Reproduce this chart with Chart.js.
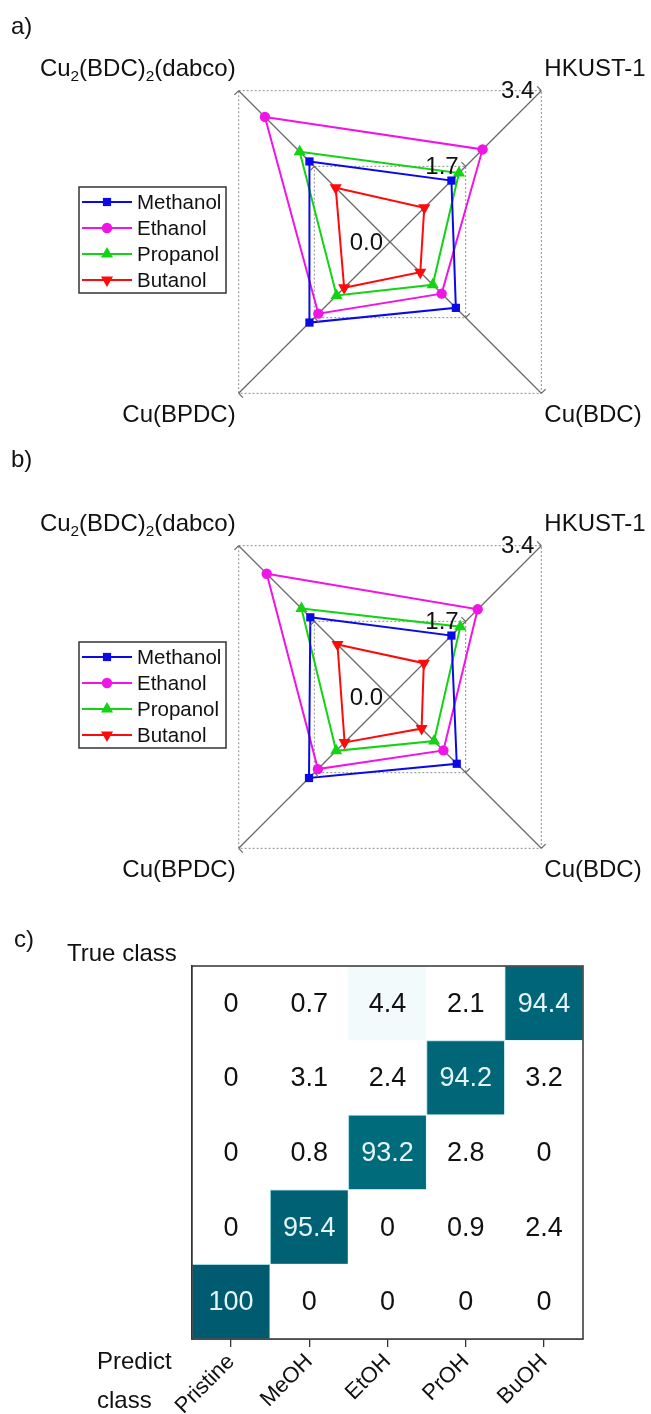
<!DOCTYPE html>
<html>
<head>
<meta charset="utf-8">
<script src="https://cdn.jsdelivr.net/npm/chart.js@4.4.1/dist/chart.umd.min.js"></script>
<style>
  html, body { margin: 0; padding: 0; background: #fff; }
  #page { position: relative; width: 651px; height: 1414px; overflow: hidden;
          font-family: 'Liberation Sans', Arial, sans-serif; color: #111; }
  #page canvas { position: absolute; left: 0; }
  .tag { position: absolute; font-size: 24px; line-height: 1; }
</style>
</head>
<body>
<div id="page">
  <canvas id="radarA" width="651" height="456" style="top:0px"></canvas>
  <canvas id="radarB" width="651" height="456" style="top:455px"></canvas>
  <canvas id="heat" width="651" height="534" style="top:880px"></canvas>
  <div class="tag" style="left:11px;top:14px">a)</div>
  <div class="tag" style="left:11px;top:447px">b)</div>
  <div class="tag" style="left:14px;top:927px">c)</div>
</div>
<script>
// ---------- data ----------
const materials = ['Cu_2(BDC)_2(dabco)', 'HKUST-1', 'Cu(BDC)', 'Cu(BPDC)'];
const alcohols = ['Methanol', 'Ethanol', 'Propanol', 'Butanol'];
const radialTicks = [0, 1.7, 3.4];

// panel a
const methanolA = [1.81, 1.38, 1.48, 1.81];
const ethanolA  = [2.81, 2.08, 1.16, 1.61];
const propanolA = [2.03, 1.55, 0.96, 1.20];
const butanolA  = [1.22, 0.77, 0.68, 1.03];

// panel b
const methanolB = [1.79, 1.38, 1.50, 1.82];
const ethanolB  = [2.77, 1.97, 1.20, 1.62];
const propanolB = [1.99, 1.58, 0.99, 1.21];
const butanolB  = [1.18, 0.76, 0.71, 1.02];

// panel c: confusion matrix, rows = true class (bottom to top), columns = predicted class
const trueClasses = ['Pristine', 'MeOH', 'EtOH', 'PrOH', 'BuOH'];
const predClasses = ['Pristine', 'MeOH', 'EtOH', 'PrOH', 'BuOH'];
const rowPristine = [100, 0, 0, 0, 0];
const rowMeOH     = [0, 95.4, 0, 0.9, 2.4];
const rowEtOH     = [0, 0.8, 93.2, 2.8, 0];
const rowPrOH     = [0, 3.1, 2.4, 94.2, 3.2];
const rowBuOH     = [0, 0.7, 4.4, 2.1, 94.4];
const matrix = [rowPristine, rowMeOH, rowEtOH, rowPrOH, rowBuOH];

// ---------- styles ----------
const FONT = "'Liberation Sans', Arial, sans-serif";
Chart.defaults.font.family = FONT;
Chart.defaults.color = '#111';

const COLORS = ['#0a0ae6', '#f014e6', '#14d214', '#ff0a0a'];
const MARKS = [
  { style: 'rect', rot: 0, r: 5.8 },
  { style: 'circle', rot: 0, r: 5.2 },
  { style: 'triangle', rot: 0, r: 7 },
  { style: 'triangle', rot: 180, r: 7 }
];

// text with single-digit subscripts written as _2
function drawRich(ctx, text, x, yMid, align, size) {
  const parts = text.split(/_(\d)/);
  const segs = parts.map((s, k) => ({ s, sub: k % 2 === 1 }));
  let total = 0;
  segs.forEach(g => {
    ctx.font = (g.sub ? size * 0.64 : size) + 'px ' + FONT;
    g.w = ctx.measureText(g.s).width;
    total += g.w;
  });
  let cx = align === 'right' ? x - total : x;
  const base = yMid + size * 0.36;
  ctx.textAlign = 'left';
  ctx.textBaseline = 'alphabetic';
  segs.forEach(g => {
    ctx.font = (g.sub ? size * 0.64 : size) + 'px ' + FONT;
    ctx.fillText(g.s, cx, base + (g.sub ? size * 0.2 : 0));
    cx += g.w;
  });
}

// axis names, tick values, small tick marks and the line+symbol legend
const radarDecor = {
  id: 'radarDecor',
  afterDraw(chart) {
    const r = chart.scales.r;
    const ctx = chart.ctx;
    const n = chart.data.labels.length;
    ctx.save();

    // short ticks across every axis
    ctx.strokeStyle = '#666';
    ctx.lineWidth = 1.2;
    r.ticks.forEach(t => {
      if (t.value <= r.min) return;
      for (let i = 0; i < n; i++) {
        const p = r.getPointPositionForValue(i, t.value);
        const a = r.getIndexAngle(i) - Math.PI;
        ctx.beginPath();
        ctx.moveTo(p.x, p.y);
        ctx.lineTo(p.x + Math.cos(a) * 6, p.y + Math.sin(a) * 6);
        ctx.stroke();
      }
    });

    // tick values along the second axis
    ctx.fillStyle = '#111';
    ctx.font = '24px ' + FONT;
    ctx.textAlign = 'right';
    ctx.textBaseline = 'middle';
    r.ticks.forEach(t => {
      const p = r.getPointPositionForValue(1, t.value);
      ctx.fillText(t.label, p.x - 7, p.y + 1);
    });

    // axis names
    chart.data.labels.forEach((lab, i) => {
      const p = r.getPointPositionForValue(i, r.max);
      const left = p.x < r.xCenter;
      const top = p.y < r.yCenter;
      const x = left ? p.x - 3 : p.x + 3;
      const y = top ? p.y - 23 : p.y + 20;
      drawRich(ctx, lab, x, y, left ? 'right' : 'left', 24);
    });

    // legend
    const L = { x: 79, y: 187, w: 147, h: 106, row: 26 };
    ctx.strokeStyle = '#333';
    ctx.lineWidth = 1.5;
    ctx.strokeRect(L.x, L.y, L.w, L.h);
    chart.data.datasets.forEach((ds, k) => {
      const y = L.y + 15 + k * L.row;
      ctx.strokeStyle = ds.borderColor;
      ctx.lineWidth = 2;
      ctx.beginPath();
      ctx.moveTo(L.x + 3, y);
      ctx.lineTo(L.x + 53, y);
      ctx.stroke();
      ctx.fillStyle = ds.borderColor;
      Chart.helpers.drawPoint(ctx, {
        pointStyle: ds.pointStyle, rotation: ds.pointRotation,
        radius: ds.pointRadius, borderWidth: 0
      }, L.x + 28, y);
      ctx.fillStyle = '#111';
      ctx.font = '20.5px ' + FONT;
      ctx.textAlign = 'left';
      ctx.textBaseline = 'middle';
      ctx.fillText(ds.label, L.x + 58, y + 1);
    });
    ctx.restore();
  }
};

function makeRadar(id, series) {
  return new Chart(document.getElementById(id), {
    type: 'radar',
    data: {
      labels: materials,
      datasets: series.map((vals, k) => ({
        label: alcohols[k],
        data: vals,
        borderColor: COLORS[k],
        backgroundColor: COLORS[k],
        pointBackgroundColor: COLORS[k],
        pointBorderColor: COLORS[k],
        pointBorderWidth: 0,
        pointStyle: MARKS[k].style,
        pointRotation: MARKS[k].rot,
        pointRadius: MARKS[k].r,
        pointHoverRadius: MARKS[k].r,
        borderWidth: 2,
        fill: false,
        tension: 0
      }))
    },
    options: {
      responsive: false,
      animation: false,
      devicePixelRatio: 1,
      events: [],
      layout: { padding: { left: 176, top: 28, right: 47, bottom: 0 } },
      plugins: { legend: { display: false }, tooltip: { enabled: false } },
      scales: {
        r: {
          min: radialTicks[0],
          max: radialTicks[2],
          startAngle: -45,
          ticks: { stepSize: radialTicks[1], display: false, callback: v => v.toFixed(1) },
          pointLabels: { display: false },
          grid: { color: '#8c8c8c', lineWidth: 1 },
          border: { dash: [2, 2] },
          angleLines: { color: '#6a6a6a', lineWidth: 1.3 }
        }
      }
    },
    plugins: [radarDecor]
  });
}

makeRadar('radarA', [methanolA, ethanolA, propanolA, butanolA]);
makeRadar('radarB', [methanolB, ethanolB, propanolB, butanolB]);

// ---------- heat map ----------
const RAMP = [
  [0, [255, 255, 255]], [3.5, [255, 255, 255]], [4.5, [242, 249, 252]],
  [10, [223, 240, 245]], [50, [127, 188, 203]], [92, [0, 112, 127]],
  [96, [0, 94, 115]], [100, [0, 90, 112]]
];
function cellColor(v) {
  for (let i = 1; i < RAMP.length; i++) {
    if (v <= RAMP[i][0]) {
      const [v0, c0] = RAMP[i - 1], [v1, c1] = RAMP[i];
      const t = (v - v0) / (v1 - v0);
      const c = c0.map((a, j) => Math.round(a + (c1[j] - a) * t));
      return `rgb(${c[0]},${c[1]},${c[2]})`;
    }
  }
  return 'rgb(0,90,112)';
}

const heatDecor = {
  id: 'heatDecor',
  afterDatasetsDraw(chart) {
    const ctx = chart.ctx;
    const a = chart.chartArea;
    ctx.save();
    // cell values
    ctx.font = '27px ' + FONT;
    ctx.textAlign = 'center';
    ctx.textBaseline = 'middle';
    chart.data.datasets.forEach((ds, r) => {
      chart.getDatasetMeta(r).data.forEach((el, j) => {
        const v = matrix[r][j];
        ctx.fillStyle = v > 50 ? '#e4f5f7' : '#111';
        ctx.fillText(String(v), el.x, (el.y + el.base) / 2 + 1);
      });
    });
    // frame
    ctx.strokeStyle = '#333';
    ctx.lineWidth = 1.5;
    ctx.strokeRect(a.left, a.top, a.right - a.left, a.bottom - a.top);
    // axis titles
    ctx.fillStyle = '#111';
    ctx.font = '24px ' + FONT;
    ctx.textAlign = 'left';
    ctx.fillText('True class', 67, 74);
    ctx.fillText('Predict', 97, 482);
    ctx.fillText('class', 97, 521);
    ctx.restore();
  }
};

new Chart(document.getElementById('heat'), {
  type: 'bar',
  data: {
    labels: predClasses,
    datasets: trueClasses.map((name, r) => ({
      label: name,
      data: predClasses.map(() => [r - 0.5, r + 0.5]),
      backgroundColor: matrix[r].map(cellColor),
      borderColor: matrix[r].map(v => v > 50 ? 'rgba(150,215,225,0.9)' : 'rgba(255,255,255,0)'),
      borderWidth: matrix[r].map(v => v > 50 ? 1 : 0),
      borderSkipped: false,
      grouped: false,
      barPercentage: 1,
      categoryPercentage: 1
    }))
  },
  options: {
    responsive: false,
    animation: false,
    devicePixelRatio: 1,
    events: [],
    layout: { padding: { left: 0, top: 86, right: 68, bottom: 0 } },
    plugins: { legend: { display: false }, tooltip: { enabled: false } },
    scales: {
      x: {
        type: 'category',
        afterFit: s => { s.height = 75; },
        ticks: { minRotation: 45, maxRotation: 45, font: { size: 22 }, color: '#111', padding: 2 },
        grid: { offset: false, drawOnChartArea: false, drawTicks: true, tickLength: 8, color: '#333', lineWidth: 1.3 },
        border: { display: true, color: '#333', width: 1.5 }
      },
      y: {
        type: 'linear',
        min: -0.5,
        max: trueClasses.length - 0.5,
        afterFit: s => { s.width = 192; },
        afterBuildTicks: s => { s.ticks = s.ticks.filter(t => Number.isInteger(t.value)); },
        ticks: { stepSize: 1, font: { size: 22 }, color: '#111', padding: 5,
                 callback: v => trueClasses[v] },
        grid: { drawOnChartArea: false, drawTicks: true, tickLength: 7, color: '#333', lineWidth: 1.3 },
        border: { display: true, color: '#333', width: 1.5 }
      }
    }
  },
  plugins: [heatDecor]
});
</script>
</body>
</html>
